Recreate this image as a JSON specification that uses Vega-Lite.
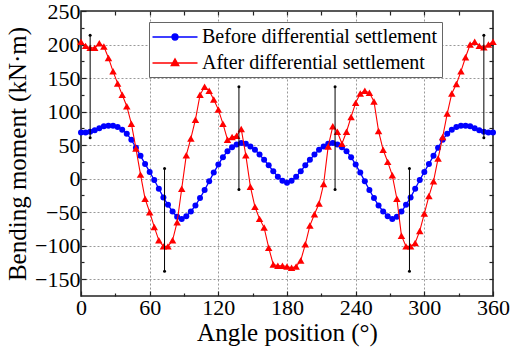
{
  "$schema": "https://vega.github.io/schema/vega-lite/v6.json",
  "width": 412,
  "height": 285,
  "autosize": "none",
  "padding": {"left": 81, "top": 11, "right": 19, "bottom": 62},
  "background": "white",
  "config": {
    "font": "Liberation Serif",
    "view": {"stroke": "#222", "strokeWidth": 1.6},
    "axis": {
      "domain": false,
      "labelFont": "Liberation Serif",
      "titleFont": "Liberation Serif",
      "labelFontSize": 22,
      "titleFontSize": 25,
      "labelColor": "#000",
      "titleColor": "#000",
      "titleFontWeight": "normal",
      "tickColor": "#222",
      "tickWidth": 1.2,
      "grid": false,
      "labelFlush": false,
      "labelOverlap": false
    }
  },
  "datasets": {
    "moment": [
      {"angle": 0, "before": 69, "after": 204},
      {"angle": 4, "before": 69, "after": 198},
      {"angle": 8, "before": 70, "after": 195},
      {"angle": 12, "before": 72, "after": 195},
      {"angle": 16, "before": 75, "after": 202},
      {"angle": 20, "before": 78, "after": 197},
      {"angle": 24, "before": 79, "after": 180},
      {"angle": 28, "before": 79, "after": 160},
      {"angle": 32, "before": 77, "after": 142},
      {"angle": 36, "before": 73, "after": 125},
      {"angle": 40, "before": 67, "after": 108},
      {"angle": 44, "before": 58, "after": 82},
      {"angle": 48, "before": 46, "after": 45},
      {"angle": 52, "before": 34, "after": 6},
      {"angle": 56, "before": 22, "after": -30},
      {"angle": 60, "before": 10, "after": -50},
      {"angle": 64, "before": -2, "after": -72},
      {"angle": 68, "before": -15, "after": -92},
      {"angle": 72, "before": -28, "after": -101},
      {"angle": 76, "before": -39, "after": -101},
      {"angle": 80, "before": -49, "after": -92},
      {"angle": 84, "before": -57, "after": -65},
      {"angle": 88, "before": -60, "after": -15},
      {"angle": 92, "before": -56, "after": 35},
      {"angle": 96, "before": -49, "after": 60},
      {"angle": 100, "before": -40, "after": 88},
      {"angle": 104, "before": -29, "after": 125},
      {"angle": 108, "before": -17, "after": 137},
      {"angle": 112, "before": -4, "after": 131},
      {"angle": 116, "before": 9, "after": 118},
      {"angle": 120, "before": 21, "after": 103},
      {"angle": 124, "before": 32, "after": 82},
      {"angle": 128, "before": 41, "after": 58},
      {"angle": 132, "before": 47, "after": 62},
      {"angle": 136, "before": 51, "after": 64},
      {"angle": 140, "before": 53, "after": 74},
      {"angle": 144, "before": 52, "after": 35},
      {"angle": 148, "before": 48, "after": -12},
      {"angle": 152, "before": 43, "after": -42},
      {"angle": 156, "before": 36, "after": -60},
      {"angle": 160, "before": 28, "after": -73},
      {"angle": 164, "before": 20, "after": -103},
      {"angle": 168, "before": 11, "after": -128},
      {"angle": 172, "before": 3, "after": -130},
      {"angle": 176, "before": -3, "after": -130},
      {"angle": 180, "before": -6, "after": -131},
      {"angle": 184, "before": -3, "after": -133},
      {"angle": 188, "before": 3, "after": -131},
      {"angle": 192, "before": 11, "after": -122},
      {"angle": 196, "before": 20, "after": -98},
      {"angle": 200, "before": 28, "after": -70},
      {"angle": 204, "before": 36, "after": -53},
      {"angle": 208, "before": 43, "after": -37},
      {"angle": 212, "before": 48, "after": -8},
      {"angle": 216, "before": 52, "after": 48},
      {"angle": 220, "before": 53, "after": 78},
      {"angle": 224, "before": 51, "after": 70},
      {"angle": 228, "before": 47, "after": 52},
      {"angle": 232, "before": 41, "after": 70},
      {"angle": 236, "before": 32, "after": 92},
      {"angle": 240, "before": 21, "after": 113},
      {"angle": 244, "before": 9, "after": 127},
      {"angle": 248, "before": -4, "after": 131},
      {"angle": 252, "before": -17, "after": 128},
      {"angle": 256, "before": -29, "after": 115},
      {"angle": 260, "before": -40, "after": 71},
      {"angle": 264, "before": -49, "after": 43},
      {"angle": 268, "before": -56, "after": 25},
      {"angle": 272, "before": -60, "after": 5},
      {"angle": 276, "before": -57, "after": -30},
      {"angle": 280, "before": -49, "after": -85},
      {"angle": 284, "before": -39, "after": -101},
      {"angle": 288, "before": -28, "after": -101},
      {"angle": 292, "before": -15, "after": -96},
      {"angle": 296, "before": -2, "after": -78},
      {"angle": 300, "before": 10, "after": -52},
      {"angle": 304, "before": 22, "after": -26},
      {"angle": 308, "before": 34, "after": -4},
      {"angle": 312, "before": 46, "after": 30},
      {"angle": 316, "before": 58, "after": 62},
      {"angle": 320, "before": 67, "after": 97},
      {"angle": 324, "before": 73, "after": 127},
      {"angle": 328, "before": 77, "after": 141},
      {"angle": 332, "before": 79, "after": 160},
      {"angle": 336, "before": 79, "after": 181},
      {"angle": 340, "before": 78, "after": 200},
      {"angle": 344, "before": 75, "after": 204},
      {"angle": 348, "before": 72, "after": 198},
      {"angle": 352, "before": 70, "after": 196},
      {"angle": 356, "before": 69, "after": 200},
      {"angle": 360, "before": 69, "after": 204}
    ],
    "ranges": [
      {"angle": 8, "low": 61, "high": 214},
      {"angle": 73, "low": -138, "high": 15},
      {"angle": 138, "low": -16, "high": 137},
      {"angle": 222, "low": -16, "high": 137},
      {"angle": 287, "low": -138, "high": 15},
      {"angle": 352, "low": 61, "high": 214}
    ]
  },
  "layer": [
    {
      "data": {"name": "moment"},
      "mark": {"type": "line", "strokeWidth": 1.3},
      "encoding": {
        "x": {
          "field": "angle", "type": "quantitative",
          "scale": {"domain": [0, 360], "nice": false},
          "axis": {
            "orient": "bottom", "values": [0, 60, 120, 180, 240, 300, 360],
            "title": "Angle position (°)", "tickSize": -5, "labelPadding": 6, "titlePadding": 2
          }
        },
        "y": {
          "field": "before", "type": "quantitative",
          "scale": {"domain": [-175, 250], "nice": false},
          "axis": {
            "orient": "left", "values": [-150, -100, -50, 0, 50, 100, 150, 200, 250],
            "title": "Bending moment (kN·m)", "tickSize": -5, "labelPadding": 6, "titlePadding": 4
          }
        },
        "color": {
          "datum": "before", "type": "nominal",
          "scale": {"domain": ["before", "after"], "range": ["#0000ff", "#ff0000"]},
          "legend": {
            "title": null,
            "orient": "none",
            "legendX": 68,
            "legendY": 11,
            "padding": 4,
            "rowPadding": 5,
            "strokeColor": "#666",
            "fillColor": "white",
            "labelFont": "Liberation Serif",
            "labelFontSize": 20,
            "labelColor": "#000",
            "labelLimit": 0,
            "symbolSize": 400,
            "symbolOffset": 11,
            "labelOffset": 16,
            "symbolStrokeWidth": 1.3,
            "labelExpr": "datum.value === 'before' ? 'Before differential settlement' : 'After differential settlement'",
            "encode": {
              "symbols": {
                "update": {
                  "shape": {"signal": "datum.value === 'before' ? 'M-2.25,0H2.25M-0.3,0A0.3,0.3,0,1,0,0.3,0A0.3,0.3,0,1,0,-0.3,0Z' : 'M-2.25,0H2.25M0,-0.42L0.38,0.26L-0.38,0.26Z'"},
                  "fill": {"signal": "datum.value === 'before' ? '#0000ff' : '#ff0000'"},
                  "stroke": {"signal": "datum.value === 'before' ? '#0000ff' : '#ff0000'"},
                  "opacity": {"value": 1}
                }
              }
            }
          }
        }
      }
    },
    {
      "data": {"name": "moment"},
      "mark": {"type": "point", "filled": true, "shape": "circle", "size": 36, "color": "#0000ff", "opacity": 1},
      "encoding": {
        "x": {
          "field": "angle", "type": "quantitative",
          "scale": {"domain": [0, 360], "nice": false},
          "axis": {"orient": "bottom", "values": [30, 90, 150, 210, 270, 330], "title": null, "labels": false, "tickSize": -3}
        },
        "y": {
          "field": "before", "type": "quantitative",
          "scale": {"domain": [-175, 250], "nice": false},
          "axis": {"orient": "left", "values": [-125, -75, -25, 25, 75, 125, 175, 225], "title": null, "labels": false, "tickSize": -3}
        }
      }
    },
    {
      "data": {"name": "moment"},
      "mark": {"type": "line", "strokeWidth": 1.1},
      "encoding": {
        "x": {
          "field": "angle", "type": "quantitative",
          "scale": {"domain": [0, 360], "nice": false},
          "axis": {"orient": "top", "values": [30, 60, 90, 120, 150, 180, 210, 240, 270, 300, 330], "title": null, "labels": false, "tickSize": -4}
        },
        "y": {
          "field": "after", "type": "quantitative",
          "scale": {"domain": [-175, 250], "nice": false},
          "axis": {"orient": "right", "values": [-150, -125, -100, -75, -50, -25, 0, 25, 50, 75, 100, 125, 150, 175, 200, 225], "title": null, "labels": false, "tickSize": -4}
        },
        "color": {"datum": "after", "type": "nominal", "scale": {"domain": ["before", "after"], "range": ["#0000ff", "#ff0000"]}}
      }
    },
    {
      "data": {"name": "moment"},
      "mark": {"type": "point", "filled": true, "shape": "triangle-up", "size": 56, "color": "#ff0000", "opacity": 1},
      "encoding": {
        "x": {
          "field": "angle", "type": "quantitative",
          "scale": {"domain": [0, 360], "nice": false},
          "axis": {"orient": "bottom", "values": [60, 120, 180, 240, 300], "title": null, "labels": false, "ticks": false, "grid": true, "gridColor": "#999", "gridDash": [2, 2], "gridWidth": 1}
        },
        "y": {
          "field": "after", "type": "quantitative",
          "scale": {"domain": [-175, 250], "nice": false},
          "axis": {"orient": "left", "values": [-150, -100, -50, 0, 50, 100, 150, 200], "title": null, "labels": false, "ticks": false, "grid": true, "gridColor": "#999", "gridDash": [2, 2], "gridWidth": 1}
        }
      }
    },
    {
      "data": {"name": "ranges"},
      "mark": {"type": "rule", "color": "#000", "strokeWidth": 1},
      "encoding": {
        "x": {"field": "angle", "type": "quantitative", "scale": {"domain": [0, 360], "nice": false}, "axis": null},
        "y": {"field": "low", "type": "quantitative", "scale": {"domain": [-175, 250], "nice": false}, "axis": null},
        "y2": {"field": "high"}
      }
    },
    {
      "data": {"name": "ranges"},
      "mark": {"type": "point", "filled": true, "shape": "circle", "size": 9, "color": "#000", "opacity": 1},
      "encoding": {
        "x": {"field": "angle", "type": "quantitative", "scale": {"domain": [0, 360], "nice": false}, "axis": null},
        "y": {"field": "low", "type": "quantitative", "scale": {"domain": [-175, 250], "nice": false}, "axis": null}
      }
    },
    {
      "data": {"name": "ranges"},
      "mark": {"type": "point", "filled": true, "shape": "circle", "size": 9, "color": "#000", "opacity": 1},
      "encoding": {
        "x": {"field": "angle", "type": "quantitative", "scale": {"domain": [0, 360], "nice": false}, "axis": null},
        "y": {"field": "high", "type": "quantitative", "scale": {"domain": [-175, 250], "nice": false}, "axis": null}
      }
    }
  ],
  "resolve": {"axis": {"x": "independent", "y": "independent"}}
}
